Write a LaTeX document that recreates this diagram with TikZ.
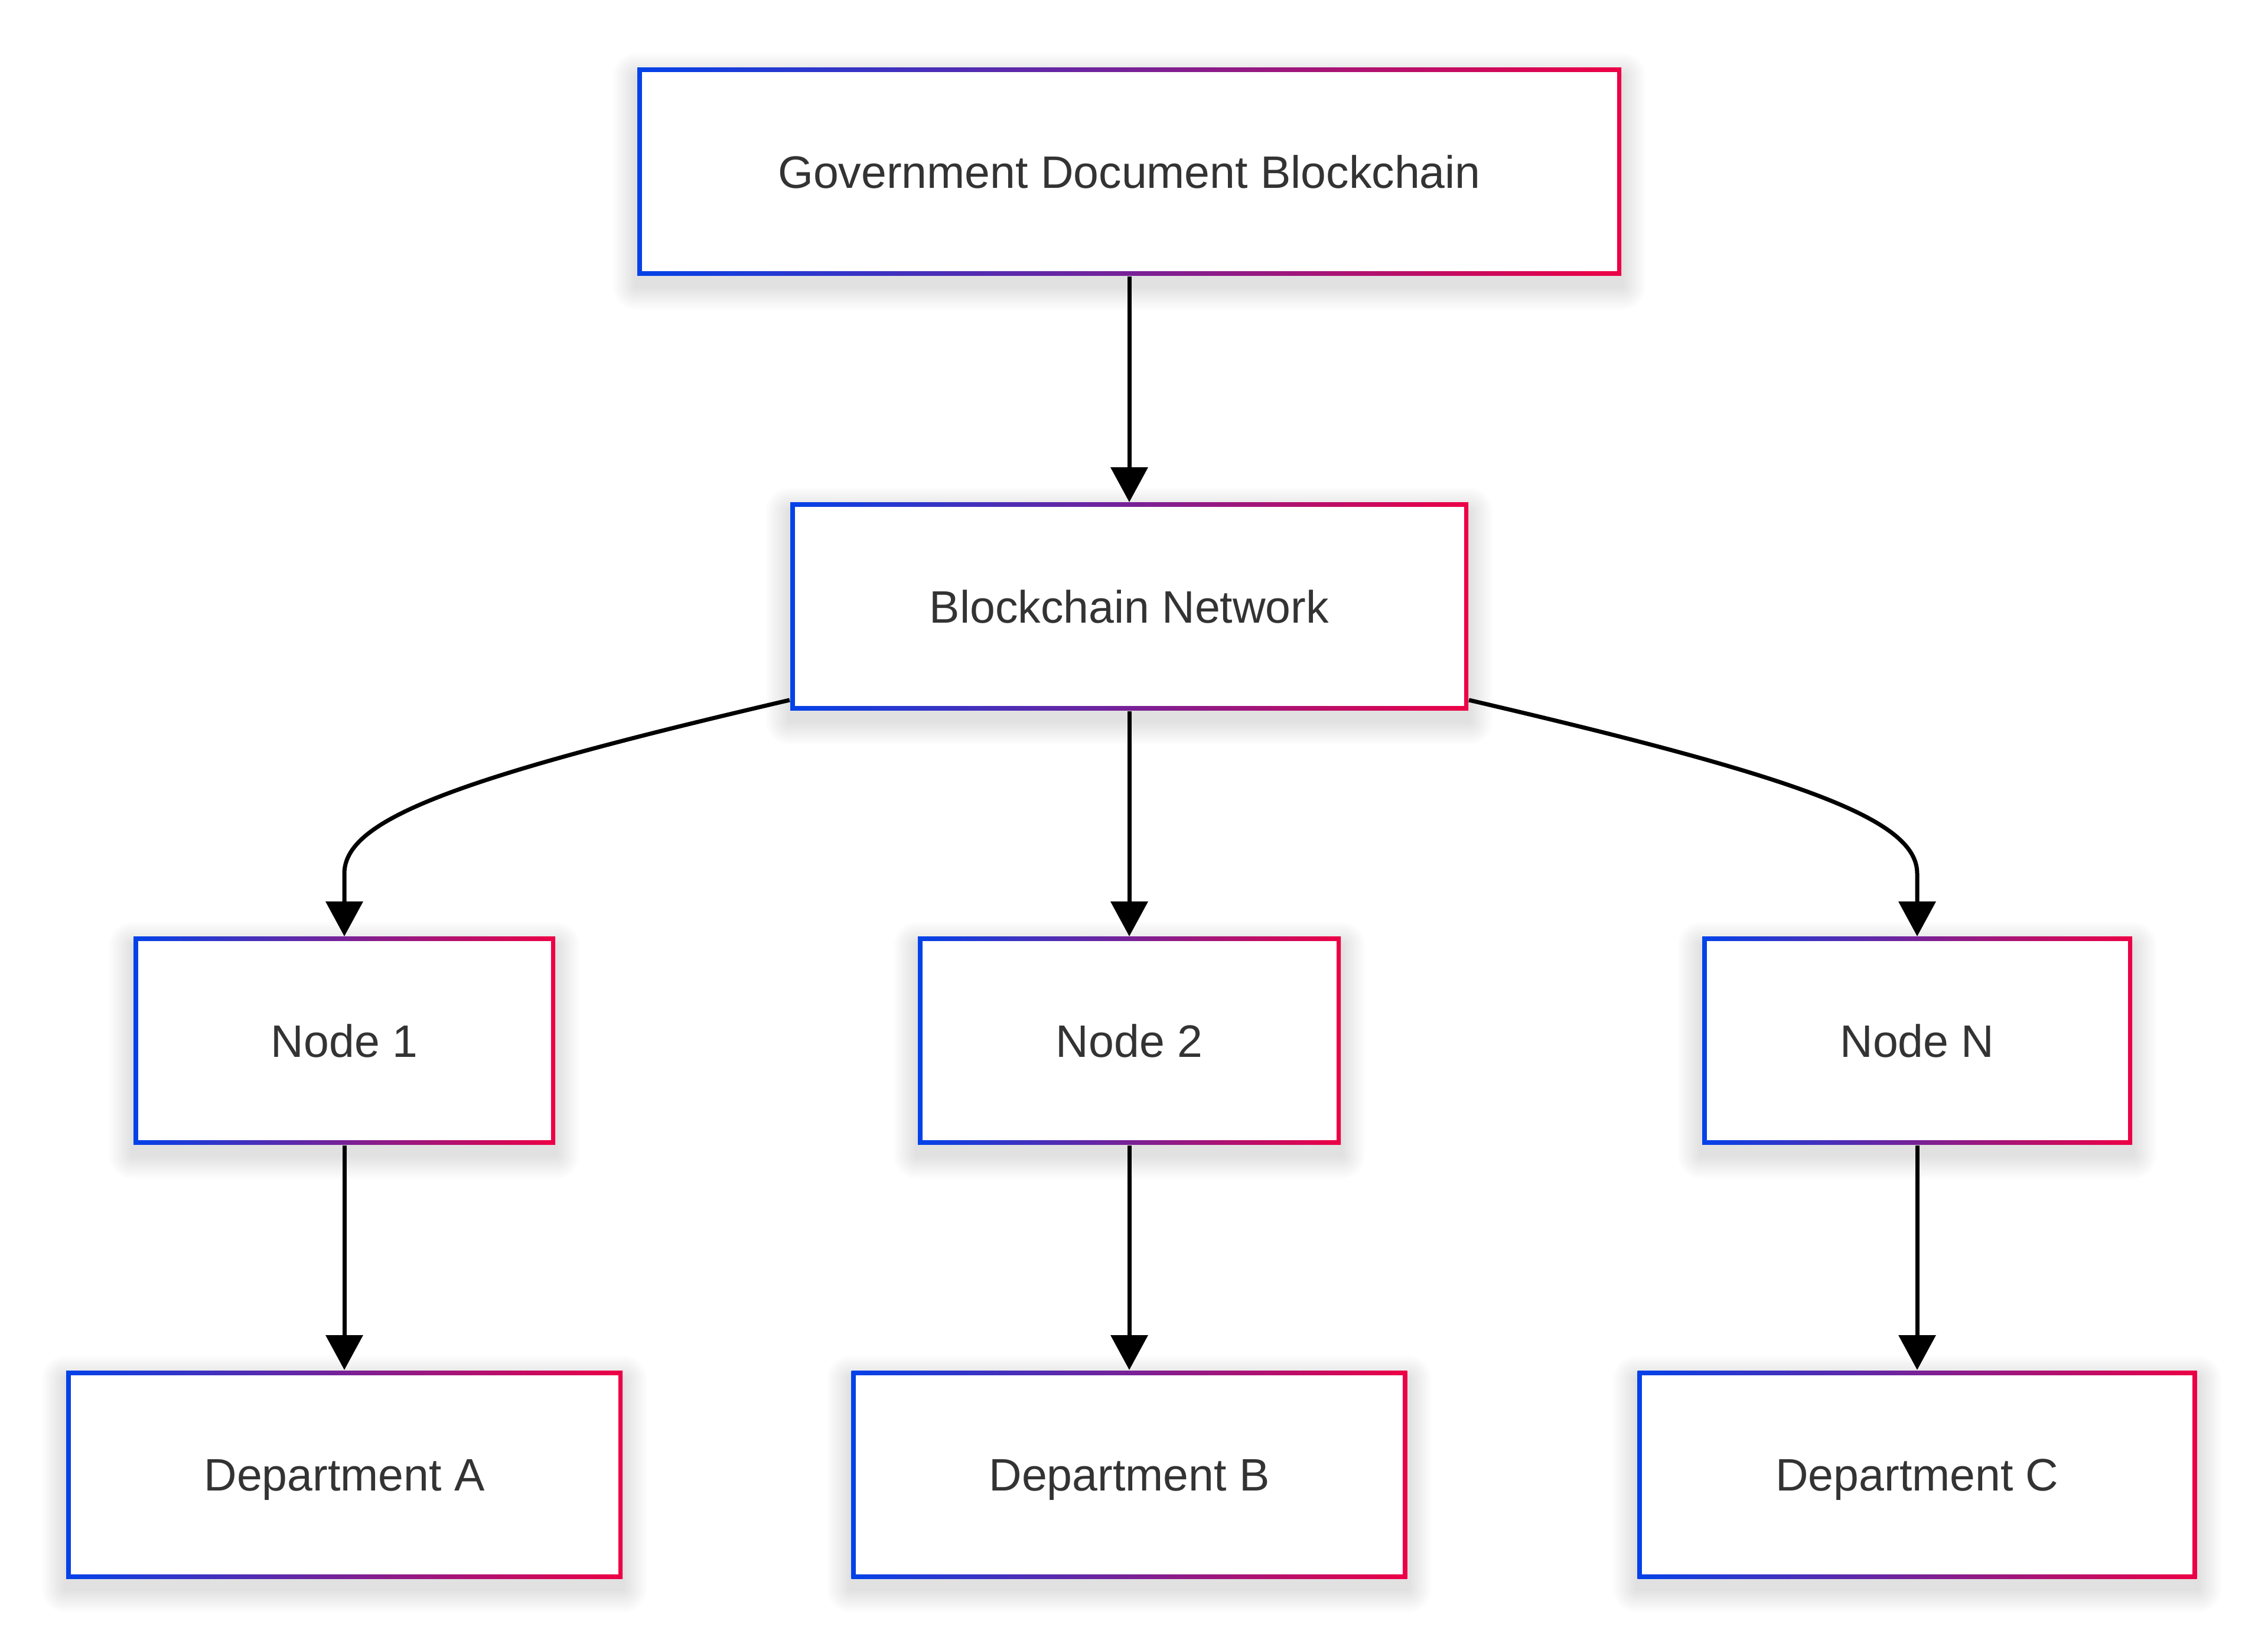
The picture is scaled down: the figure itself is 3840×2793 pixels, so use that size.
\documentclass[tikz,border=0pt]{standalone}
\usepackage{fontspec}
\setmainfont{Liberation Sans}
\usetikzlibrary{arrows.meta,backgrounds}
\definecolor{gblue}{RGB}{3,66,233}
\definecolor{gred}{RGB}{237,0,69}
\definecolor{txt}{RGB}{51,51,51}
\begin{document}
\begin{tikzpicture}[x=0.2pt,y=-0.2pt,
  gbox/.style n args={2}{rectangle, inner sep=0pt,
    minimum width=#1*0.2pt, minimum height=#2*0.2pt,
    left color=gblue, right color=gred,
    text=txt, font=\fontsize{15.4pt}{18pt}\selectfont,
    text height=11.1pt, text depth=0pt,
    path picture={\fill[white] ([shift={(1.5pt,1.5pt)}]path picture bounding box.south west)
      rectangle ([shift={(-1.5pt,-1.5pt)}]path picture bounding box.north east);}},
  arr/.style={draw=black, line width=1.4pt, -{Triangle[length=11.8pt,width=12.4pt]}}]
\useasboundingbox (0,0) rectangle (3840,2793);
\begin{scope}[on background layer]
  \fill[white] (0,0) rectangle (3840,2793);
\end{scope}

\node[gbox={1666}{352}] (gov) at (1912,291) {Government Document Blockchain};
\node[gbox={1148}{352}] (bn) at (1912,1027) {Blockchain Network};
\node[gbox={714}{352}] (n1) at (583,1762) {Node 1};
\node[gbox={716}{352}] (n2) at (1912,1762) {Node 2};
\node[gbox={728}{352}] (nn) at (3246,1762) {Node N};
\node[gbox={942}{352}] (da) at (583,2496) {Department A};
\node[gbox={941}{352}] (db) at (1912,2496) {Department B};
\node[gbox={947}{352}] (dc) at (3246,2496) {Department C};

\begin{scope}[on background layer]
\foreach \n in {gov,bn,n1,n2,nn,da,db,dc}{
  \foreach \k in {1,...,10}{
    \fill[black, opacity=0.012, rounded corners=\k*0.8pt]
      ([shift={(-\k*4,\k*4+16)}]\n.south west) rectangle
      ([shift={(\k*4,-\k*4+16)}]\n.north east);
  }
}
\end{scope}

\draw[arr] (gov.south) -- (bn.north);
\draw[arr] (bn.south) -- (n2.north);
\draw[arr] ([shift={(0,-19)}]bn.south west) .. controls +(-576,134) and +(0,-90) .. ([shift={(0,-106)}]n1.north) -- (n1.north);
\draw[arr] ([shift={(0,-19)}]bn.south east) .. controls +(576,134) and +(0,-90) .. ([shift={(0,-106)}]nn.north) -- (nn.north);
\draw[arr] (n1.south) -- (da.north);
\draw[arr] (n2.south) -- (db.north);
\draw[arr] (nn.south) -- (dc.north);
\end{tikzpicture}
\end{document}
